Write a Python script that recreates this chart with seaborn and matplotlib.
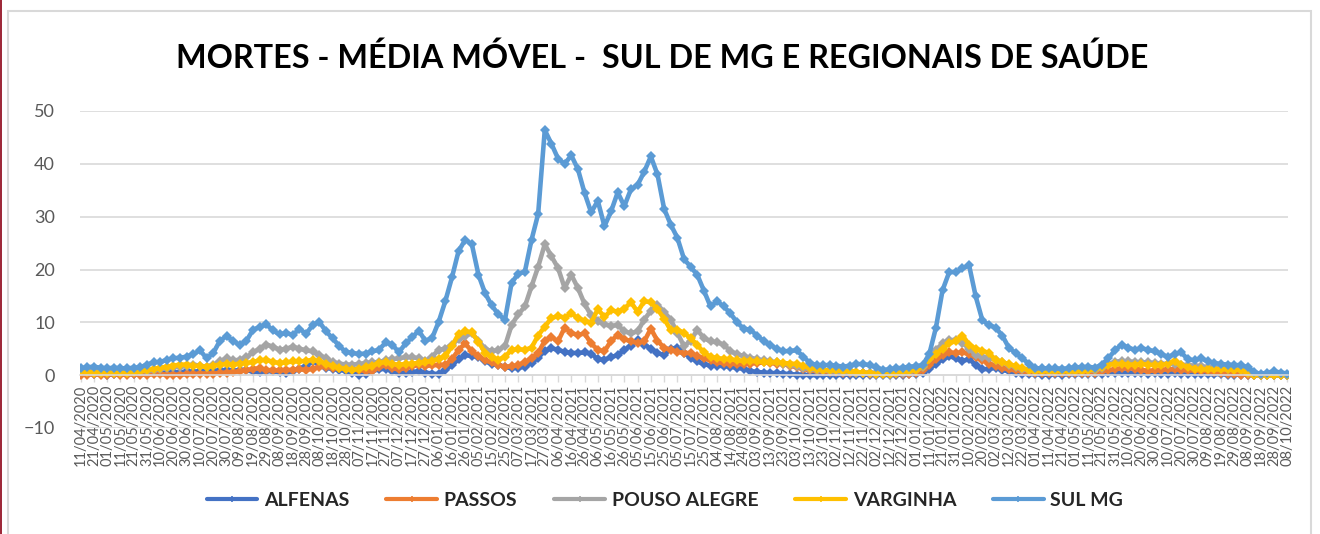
import numpy as np
import pandas as pd
import matplotlib
matplotlib.use("Agg")
import matplotlib.pyplot as plt
import matplotlib.dates as mdates
from matplotlib.lines import Line2D
from matplotlib.patches import Rectangle
import seaborn as sns

# ---------------- data (5-day samples, 11/04/2020 .. 08/10/2022) ----------------
start_date = "2020-04-11"
end_date = "2022-10-08"
series_names = ["ALFENAS", "PASSOS", "POUSO ALEGRE", "VARGINHA", "SUL MG"]

alfenas = [
    0.2, 0.3, 0.2, 0.2, 0.1, 0.2, 0.2, 0.3, 0.2, 0.3,
    0.3, 0.4, 0.5, 0.4, 0.6, 0.5, 0.7, 0.6, 0.8, 0.7,
    0.8, 0.9, 1.0, 0.8, 1.0, 0.9, 0.7, 0.6, 0.8, 0.7,
    0.6, 0.5, 0.8, 1.2, 1.8, 2.6, 2.2, 1.4, 1.2, 1.0,
    0.8, 0.4, 0.1, 0.3, 0.8, 1.1, 1.2, 0.8, 0.4, 0.5,
    0.6, 0.7, 0.5, 0.3, 0.2, 1.0, 1.9, 3.0, 3.8, 3.6,
    3.5, 2.6, 2.2, 1.9, 1.6, 1.3, 1.4, 1.6, 2.3, 3.3,
    4.6, 5.1, 4.8, 4.4, 4.2, 4.2, 4.3, 4.1, 3.0, 2.9,
    3.4, 3.8, 4.8, 5.6, 6.6, 5.8, 5.0, 4.2, 3.8, 5.0,
    5.2, 4.2, 3.3, 2.6, 2.1, 1.8, 1.8, 1.7, 1.6, 1.4,
    1.2, 0.8, 0.6, 0.5, 0.4, 0.4, 0.3, 0.2, 0.1, 0.1,
    0.0, 0.0, 0.1, 0.1, 0.0, 0.1, 0.1, 0.0, 0.1, 0.1,
    0.0, 0.1, 0.0, 0.1, 0.1, 0.2, 0.2, 0.4, 1.2, 2.1,
    3.0, 3.6, 3.2, 2.7, 3.0, 2.0, 1.1, 1.2, 1.4, 1.0,
    0.7, 0.5, 0.3, 0.2, 0.2, 0.1, 0.1, 0.2, 0.1, 0.2,
    0.2, 0.2, 0.3, 0.2, 0.3, 0.4, 0.5, 0.4, 0.5, 0.4,
    0.4, 0.3, 0.4, 0.3, 0.3, 0.4, 0.3, 0.3, 0.2, 0.3,
    0.2, 0.2, 0.2, 0.1, 0.1, 0.1, 0.1, 0.0, 0.0, 0.0,
    0.0, 0.0, 0.0,
]

passos = [
    0.1, 0.1, 0.2, 0.1, 0.1, 0.2, 0.1, 0.1, 0.2, 0.1,
    0.1, 0.2, 0.2, 0.1, 0.1, 0.1, 0.2, 0.2, 0.3, 0.3,
    0.3, 0.4, 0.5, 0.6, 0.7, 0.9, 1.2, 1.3, 1.0, 0.9,
    0.9, 1.0, 1.0, 1.1, 1.0, 1.2, 1.5, 1.6, 1.4, 1.3,
    1.2, 1.1, 1.0, 0.8, 0.8, 1.5, 1.9, 1.3, 1.1, 1.4,
    1.7, 1.9, 1.7, 1.9, 1.9, 2.0, 3.0, 4.8, 6.0, 4.5,
    3.6, 2.8, 2.4, 1.9, 1.6, 1.7, 1.9, 2.5, 3.2, 4.2,
    6.5, 7.2, 6.4, 9.0, 8.0, 7.6, 7.9, 6.0, 4.8, 4.5,
    6.5, 7.6, 6.8, 6.4, 6.1, 6.4, 8.8, 6.5, 5.2, 4.8,
    4.4, 4.2, 4.2, 3.6, 3.2, 2.8, 2.4, 2.3, 2.2, 2.1,
    2.1, 2.2, 2.3, 2.4, 2.3, 2.2, 2.1, 1.8, 1.5, 1.2,
    0.9, 0.8, 0.7, 0.6, 0.6, 0.5, 0.5, 0.4, 0.4, 0.3,
    0.3, 0.2, 0.2, 0.2, 0.3, 0.3, 0.4, 0.9, 2.0, 3.0,
    3.8, 4.3, 4.2, 4.3, 4.0, 3.4, 2.8, 2.2, 1.8, 1.4,
    1.1, 0.9, 0.7, 0.6, 0.5, 0.4, 0.4, 0.4, 0.5, 0.5,
    0.5, 0.5, 0.5, 0.5, 0.7, 0.9, 1.1, 1.3, 1.4, 1.2,
    1.0, 0.8, 0.9, 1.0, 1.1, 1.1, 1.0, 0.9, 0.9, 0.8,
    0.8, 0.6, 0.4, 0.3, 0.2, 0.1, 0.1, 0.0, 0.0, 0.0,
    0.0, 0.0, 0.0,
]

pouso_alegre = [
    1.0, 0.9, 0.8, 0.7, 0.7, 0.6, 0.7, 0.7, 0.7, 0.8,
    0.8, 1.0, 1.2, 1.3, 1.5, 1.6, 1.8, 2.0, 1.8, 1.6,
    2.0, 2.6, 3.2, 2.8, 2.9, 3.4, 4.3, 5.0, 5.8, 5.4,
    4.8, 5.0, 5.4, 5.0, 4.7, 4.5, 3.8, 3.2, 2.5, 2.2,
    2.0, 2.0, 2.1, 2.3, 2.4, 2.5, 2.8, 3.0, 3.2, 3.4,
    3.4, 3.2, 2.7, 3.5, 4.8, 5.0, 5.8, 6.8, 7.5, 7.9,
    6.5, 5.0, 4.5, 4.8, 5.5, 9.5, 11.5, 13.0, 16.8, 20.5,
    24.8, 22.5, 20.3, 16.5, 19.0, 16.5, 13.5, 11.3, 10.3, 9.6,
    9.3, 9.5, 8.3, 7.9, 8.3, 10.5, 12.2, 13.3, 12.0, 10.5,
    8.0, 5.5, 6.5, 8.6, 7.0, 6.4, 6.2, 5.8, 4.5, 4.0,
    3.6, 3.3, 3.0, 2.8, 2.6, 2.4, 2.2, 2.0, 1.7, 1.4,
    1.1, 1.0, 0.9, 0.8, 0.7, 0.6, 0.6, 0.5, 0.5, 0.5,
    0.4, 0.4, 0.4, 0.4, 0.5, 0.6, 0.9, 1.5, 3.0, 4.8,
    6.0, 6.6, 6.7, 6.1, 5.0, 3.9, 3.5, 3.3, 2.9, 2.4,
    2.0, 1.6, 1.2, 0.9, 0.8, 0.8, 0.8, 0.8, 0.8, 0.8,
    0.8, 0.8, 0.9, 0.9, 1.4, 2.1, 2.5, 2.7, 2.6, 2.5,
    2.4, 2.4, 2.3, 2.2, 2.1, 2.1, 2.0, 1.9, 1.8, 1.7,
    1.5, 1.4, 1.3, 1.2, 1.1, 1.0, 0.5, 0.1, 0.0, 0.0,
    0.0, 0.0, 0.0,
]

varginha = [
    0.7, 0.6, 0.5, 0.5, 0.5, 0.4, 0.5, 0.5, 0.6, 0.7,
    0.9, 1.2, 1.4, 1.6, 1.8, 2.0, 2.0, 1.8, 1.7, 1.6,
    1.8, 2.0, 2.1, 2.0, 2.2, 2.3, 2.5, 2.8, 2.9, 2.5,
    2.3, 2.4, 2.6, 2.6, 2.7, 2.9, 2.6, 2.2, 1.7, 1.4,
    1.2, 1.0, 1.2, 1.5, 1.8, 2.3, 2.5, 2.1, 2.0, 2.1,
    2.2, 2.3, 2.5, 2.7, 3.1, 3.6, 5.5, 7.8, 8.3, 8.1,
    6.3, 4.2, 3.4, 2.9, 3.5, 4.8, 4.9, 4.8, 5.2, 7.5,
    9.2, 10.8, 11.2, 10.9, 11.7, 10.8, 10.3, 9.9, 12.5, 11.0,
    12.3, 12.0, 12.6, 13.8, 12.0, 14.0, 13.8, 12.5, 10.7, 8.5,
    8.6, 8.0, 7.0, 5.7, 4.3, 3.5, 3.2, 3.1, 3.0, 2.8,
    2.7, 2.7, 2.6, 2.5, 2.4, 2.4, 2.3, 2.2, 2.1, 1.8,
    1.4, 1.1, 1.0, 0.9, 0.9, 0.8, 0.8, 0.6, 0.5, 0.4,
    0.3, 0.2, 0.3, 0.5, 0.7, 0.8, 1.0, 1.8, 3.0, 4.0,
    5.0, 6.0, 6.5, 7.5, 5.8, 5.0, 4.6, 4.2, 2.9, 2.4,
    2.1, 1.7, 1.3, 1.0, 0.8, 0.8, 0.8, 0.8, 0.8, 0.8,
    0.8, 0.8, 0.9, 1.1, 1.5, 2.0, 2.1, 2.1, 2.0, 2.0,
    2.1, 2.0, 1.9, 1.9, 2.2, 2.7, 2.0, 1.5, 1.2, 1.1,
    1.1, 1.1, 1.1, 1.1, 1.0, 1.0, 0.4, 0.1, 0.0, 0.0,
    0.0, 0.0, 0.0,
]

sul_mg = [
    1.3, 1.5, 1.6, 1.4, 1.3, 1.4, 1.3, 1.3, 1.4, 1.5,
    2.0, 2.4, 2.5, 2.9, 3.2, 3.3, 3.5, 4.0, 4.7, 3.2,
    4.2, 6.5, 7.4, 6.5, 5.7, 6.5, 8.6, 9.1, 9.6, 8.5,
    7.7, 8.0, 7.6, 8.8, 7.8, 9.5, 10.1, 8.3, 7.0, 5.5,
    4.4, 4.2, 4.0, 4.1, 4.5, 4.8, 6.2, 5.8, 4.3, 6.0,
    7.2, 8.4, 6.5, 7.0, 10.1, 14.0, 18.5, 23.5, 25.6, 24.8,
    19.0, 15.5, 13.2, 11.5, 10.5, 17.5, 19.2, 19.6, 25.6, 30.5,
    46.4, 43.8, 41.0, 40.0, 41.6, 39.0, 34.5, 30.8, 33.0, 28.2,
    31.0, 34.6, 32.0, 35.2, 36.0, 38.5, 41.4, 38.0, 31.5, 28.5,
    26.0, 22.0, 20.5, 19.0, 16.0, 13.0, 14.0, 13.0, 11.7, 10.0,
    8.8, 8.6, 7.5, 6.5, 5.7, 5.0, 4.5, 4.6, 4.7, 3.5,
    2.3, 1.9, 1.9, 1.9, 1.8, 1.6, 1.8, 2.1, 2.1, 1.9,
    1.5, 1.0, 1.1, 1.3, 1.4, 1.6, 1.7, 1.9, 4.0, 9.0,
    16.1, 19.5, 19.5, 20.2, 20.8, 14.9, 10.4, 9.5, 9.0, 7.5,
    5.2, 4.2, 3.2, 2.2, 1.3, 1.3, 1.3, 1.3, 1.2, 1.3,
    1.5, 1.5, 1.6, 1.4, 2.0, 3.2, 4.7, 5.8, 5.2, 4.8,
    5.1, 4.8, 4.5, 4.0, 3.4, 4.0, 4.3, 3.0, 2.8, 3.2,
    2.6, 2.3, 2.1, 2.0, 1.9, 1.9, 1.5, 0.6, 0.2, 0.5,
    0.7, 0.5, 0.3,
]

series_values = [alfenas, passos, pouso_alegre, varginha, sul_mg]
colors = ["#4472C4", "#ED7D31", "#A5A5A5", "#FFC000", "#5B9BD5"]

dates = pd.date_range(start_date, periods=len(sul_mg), freq="5D")
tick_dates = pd.date_range(start_date, end_date, freq="10D")
tick_labels = [d.strftime("%d/%m/%Y") for d in tick_dates]

frames = []
for name, vals in zip(series_names, series_values):
    frames.append(pd.DataFrame({"data": mdates.date2num(dates), "valor": vals, "serie": name}))
df = pd.concat(frames, ignore_index=True)

# ---------------- figure ----------------
sns.set_theme(style="white")
plt.rcParams["font.family"] = ["Lato", "DejaVu Sans"]

fig = plt.figure(figsize=(13.2, 5.34), dpi=100)
fig.patch.set_facecolor("white")

# chart-area border and the left red edge
fig.add_artist(Rectangle((8 / 1320, -0.05), 1303 / 1320, 1 - 11 / 534 + 0.05,
                         transform=fig.transFigure, fill=False,
                         edgecolor="#D9D9D9", linewidth=1.5))
fig.add_artist(Rectangle((0, 0), 2 / 1320, 1, transform=fig.transFigure,
                         facecolor="#9E2A3A", edgecolor="none"))

ax = fig.add_axes([80 / 1320, 1 - 428 / 534, 1208 / 1320, (428 - 111) / 534])

sns.lineplot(data=df, x="data", y="valor", hue="serie", hue_order=series_names,
             palette=colors, marker="D", markersize=4.8, markeredgewidth=0,
             linewidth=3.3, legend=False, sort=False, ax=ax)

# axis line crossing at y = 0 (set before tick labels: it resets the ticks)
for s in ["top", "right", "left"]:
    ax.spines[s].set_visible(False)
ax.spines["bottom"].set_position(("data", 0))
ax.spines["bottom"].set_color("#D9D9D9")
ax.spines["bottom"].set_linewidth(1.2)

ax.set_ylim(-10, 50)
ax.set_yticks(np.arange(-10, 51, 10))
x0 = mdates.date2num(dates[0]) - 0.5
x1 = mdates.date2num(dates[-1]) + 0.5
ax.set_xlim(x0, x1)
ax.set_xticks(mdates.date2num(tick_dates))
ax.set_xticklabels(tick_labels)
ax.set_xlabel("")
ax.set_ylabel("")

ax.grid(axis="y", color="#D9D9D9", linewidth=1.2)
ax.grid(axis="x", visible=False)
ax.set_axisbelow(True)
ax.tick_params(axis="x", length=5, width=1, color="#D9D9D9", direction="out", pad=2,
               bottom=True, labelrotation=90, labelsize=10.5, labelcolor="#595959")
ax.tick_params(axis="y", length=0, labelsize=13, labelcolor="#595959", pad=18)

fig.text(662 / 1320, 1 - 58 / 534, "MORTES - MÉDIA MÓVEL -  SUL DE MG E REGIONAIS DE SAÚDE",
         ha="center", va="center", fontsize=23.3, fontweight="bold", color="black")

handles = [Line2D([0], [0], color=c, linewidth=3, marker="+", markersize=5, markeredgewidth=1.2)
           for c in colors]
fig.legend(handles, series_names, loc="center", bbox_to_anchor=(665 / 1320, 1 - 500 / 534),
           ncol=5, frameon=False, prop={"weight": "bold", "size": 14},
           handlelength=2.6, columnspacing=1.9, handletextpad=0.35)

fig.savefig("out.png", dpi=100, facecolor="white")
